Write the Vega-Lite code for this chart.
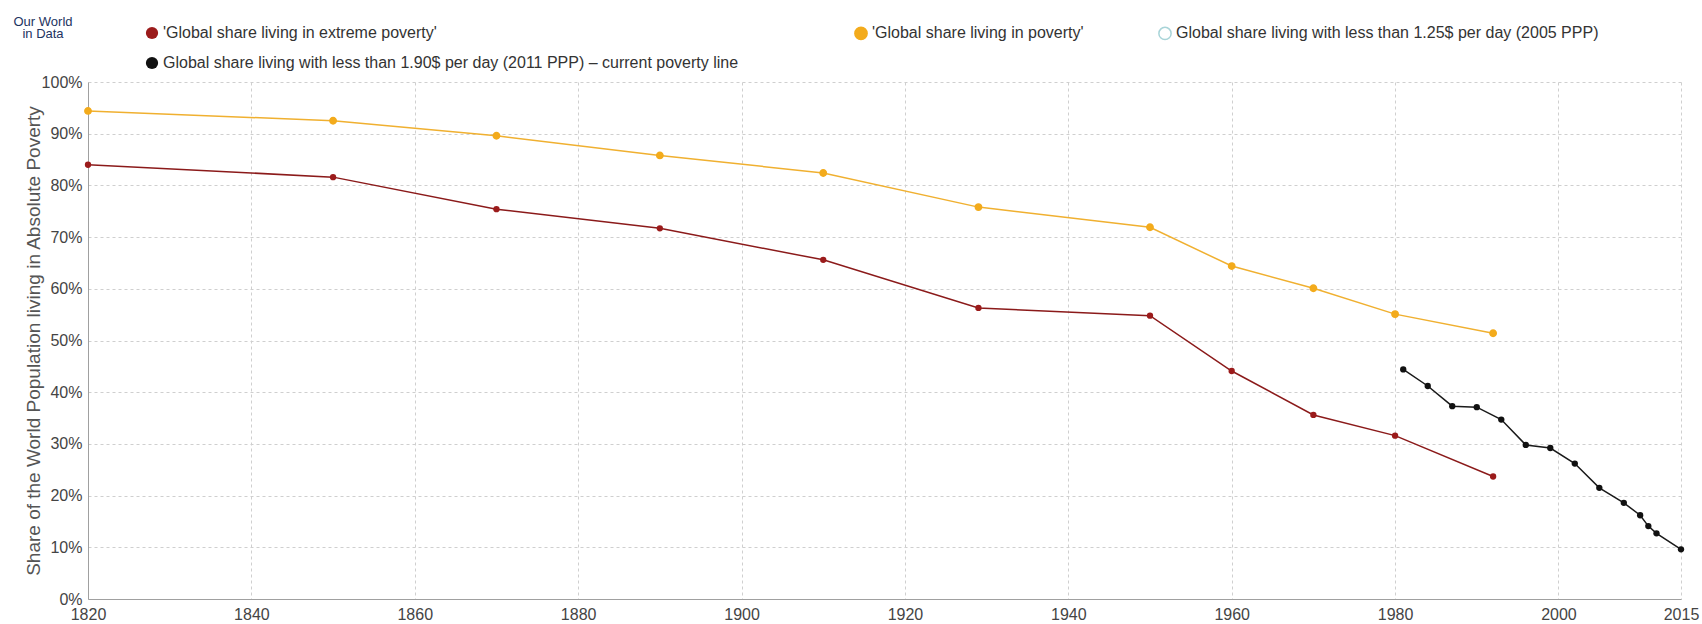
{
  "$schema": "https://vega.github.io/schema/vega-lite/v6.json",
  "width": 1593,
  "height": 517,
  "autosize": "none",
  "padding": {"left": 88, "top": 82, "right": 21, "bottom": 25},
  "background": "white",
  "config": {
    "font": "Liberation Sans",
    "view": {"stroke": null}
  },
  "title": {
    "text": ["Our World", "in Data"],
    "anchor": "start",
    "frame": "group",
    "align": "center",
    "dx": -45,
    "offset": -16,
    "fontSize": 13,
    "fontWeight": "normal",
    "color": "#1d3361",
    "lineHeight": 12
  },
  "data": {
    "values": [
      {"series": "'Global share living in extreme poverty'", "year": 1820, "share": 84.0},
      {"series": "'Global share living in extreme poverty'", "year": 1850, "share": 81.6},
      {"series": "'Global share living in extreme poverty'", "year": 1870, "share": 75.4},
      {"series": "'Global share living in extreme poverty'", "year": 1890, "share": 71.7},
      {"series": "'Global share living in extreme poverty'", "year": 1910, "share": 65.6},
      {"series": "'Global share living in extreme poverty'", "year": 1929, "share": 56.3},
      {"series": "'Global share living in extreme poverty'", "year": 1950, "share": 54.8},
      {"series": "'Global share living in extreme poverty'", "year": 1960, "share": 44.1},
      {"series": "'Global share living in extreme poverty'", "year": 1970, "share": 35.6},
      {"series": "'Global share living in extreme poverty'", "year": 1980, "share": 31.6},
      {"series": "'Global share living in extreme poverty'", "year": 1992, "share": 23.7},
      {"series": "'Global share living in poverty'", "year": 1820, "share": 94.4},
      {"series": "'Global share living in poverty'", "year": 1850, "share": 92.5},
      {"series": "'Global share living in poverty'", "year": 1870, "share": 89.6},
      {"series": "'Global share living in poverty'", "year": 1890, "share": 85.8},
      {"series": "'Global share living in poverty'", "year": 1910, "share": 82.4},
      {"series": "'Global share living in poverty'", "year": 1929, "share": 75.8},
      {"series": "'Global share living in poverty'", "year": 1950, "share": 71.9},
      {"series": "'Global share living in poverty'", "year": 1960, "share": 64.4},
      {"series": "'Global share living in poverty'", "year": 1970, "share": 60.1},
      {"series": "'Global share living in poverty'", "year": 1980, "share": 55.1},
      {"series": "'Global share living in poverty'", "year": 1992, "share": 51.4},
      {"series": "Global share living with less than 1.90$ per day (2011 PPP) – current poverty line", "year": 1981, "share": 44.4},
      {"series": "Global share living with less than 1.90$ per day (2011 PPP) – current poverty line", "year": 1984, "share": 41.2},
      {"series": "Global share living with less than 1.90$ per day (2011 PPP) – current poverty line", "year": 1987, "share": 37.3},
      {"series": "Global share living with less than 1.90$ per day (2011 PPP) – current poverty line", "year": 1990, "share": 37.1},
      {"series": "Global share living with less than 1.90$ per day (2011 PPP) – current poverty line", "year": 1993, "share": 34.7},
      {"series": "Global share living with less than 1.90$ per day (2011 PPP) – current poverty line", "year": 1996, "share": 29.8},
      {"series": "Global share living with less than 1.90$ per day (2011 PPP) – current poverty line", "year": 1999, "share": 29.2},
      {"series": "Global share living with less than 1.90$ per day (2011 PPP) – current poverty line", "year": 2002, "share": 26.2},
      {"series": "Global share living with less than 1.90$ per day (2011 PPP) – current poverty line", "year": 2005, "share": 21.5},
      {"series": "Global share living with less than 1.90$ per day (2011 PPP) – current poverty line", "year": 2008, "share": 18.6},
      {"series": "Global share living with less than 1.90$ per day (2011 PPP) – current poverty line", "year": 2010, "share": 16.2},
      {"series": "Global share living with less than 1.90$ per day (2011 PPP) – current poverty line", "year": 2011, "share": 14.1},
      {"series": "Global share living with less than 1.90$ per day (2011 PPP) – current poverty line", "year": 2012, "share": 12.7},
      {"series": "Global share living with less than 1.90$ per day (2011 PPP) – current poverty line", "year": 2015, "share": 9.6}
    ]
  },
  "encoding": {
    "x": {
      "field": "year",
      "type": "quantitative",
      "scale": {"domain": [1820, 2015], "nice": false, "zero": false},
      "axis": {
        "values": [1820, 1840, 1860, 1880, 1900, 1920, 1940, 1960, 1980, 2000, 2015],
        "format": "d",
        "title": null,
        "grid": true,
        "gridDash": [3, 3],
        "gridColor": "#cfcfcf",
        "ticks": false,
        "domainColor": "#a0a0a0",
        "labelFontSize": 16,
        "labelColor": "#444444",
        "labelPadding": 7,
        "labelFlush": false
      }
    },
    "y": {
      "field": "share",
      "type": "quantitative",
      "scale": {"domain": [0, 100], "nice": false},
      "axis": {
        "values": [0, 10, 20, 30, 40, 50, 60, 70, 80, 90, 100],
        "labelExpr": "datum.value + '%'",
        "title": "Share of the World Population living in Absolute Poverty",
        "titleFontSize": 19,
        "titleFontWeight": "normal",
        "titleColor": "#555555",
        "titlePadding": -2,
        "grid": true,
        "gridDash": [3, 3],
        "gridColor": "#cfcfcf",
        "ticks": false,
        "domainColor": "#a0a0a0",
        "labelFontSize": 16,
        "labelColor": "#444444",
        "labelPadding": 6
      }
    }
  },
  "layer": [
    {
      "mark": {"type": "line", "strokeWidth": 1.5},
      "encoding": {
        "color": {
          "field": "series",
          "type": "nominal",
          "scale": {
            "domain": ["'Global share living in extreme poverty'", "'Global share living in poverty'", "Global share living with less than 1.90$ per day (2011 PPP) – current poverty line"],
            "range": ["#8b1a1a", "#f0b030", "#1a1a1a"]
          },
          "legend": null
        }
      }
    },
    {
      "transform": [{"filter": "datum.series !== \"'Global share living in poverty'\""}],
      "mark": {"type": "point", "filled": true, "size": 40, "opacity": 1},
      "encoding": {
        "fill": {
          "field": "series",
          "type": "nominal",
          "scale": {
            "domain": ["'Global share living in extreme poverty'", "Global share living with less than 1.90$ per day (2011 PPP) – current poverty line"],
            "range": ["#9b1b1b", "#111111"]
          },
          "legend": {
            "title": null,
            "orient": "none",
            "legendX": 56,
            "legendY": -57,
            "direction": "vertical",
            "symbolType": "circle",
            "symbolSize": 150,
            "labelFontSize": 16,
            "labelColor": "#333333",
            "labelOffset": 3,
            "rowPadding": 14,
            "labelLimit": 1000
          }
        }
      }
    },
    {
      "transform": [{"filter": "datum.series === \"'Global share living in poverty'\""}],
      "mark": {"type": "point", "filled": true, "size": 40, "opacity": 1, "strokeWidth": 1.5},
      "encoding": {
        "fill": {
          "field": "series",
          "type": "nominal",
          "scale": {
            "domain": ["'Global share living in poverty'", "Global share living with less than 1.25$ per day (2005 PPP)"],
            "range": ["#f3ab1c", "#ffffff"]
          },
          "legend": {
            "title": null,
            "orient": "none",
            "legendX": 765,
            "legendY": -57,
            "direction": "horizontal",
            "symbolType": "circle",
            "symbolSize": 150,
            "labelFontSize": 16,
            "labelColor": "#333333",
            "labelOffset": 3,
            "columnPadding": 71,
            "labelLimit": 1000
          }
        },
        "stroke": {
          "field": "series",
          "type": "nominal",
          "scale": {
            "domain": ["'Global share living in poverty'", "Global share living with less than 1.25$ per day (2005 PPP)"],
            "range": ["#f3ab1c", "#a8d4d8"]
          },
          "legend": {
            "title": null,
            "orient": "none",
            "legendX": 765,
            "legendY": -57,
            "direction": "horizontal",
            "symbolType": "circle",
            "symbolSize": 150,
            "labelFontSize": 16,
            "labelColor": "#333333",
            "labelOffset": 3,
            "columnPadding": 71,
            "labelLimit": 1000
          }
        }
      }
    }
  ],
  "resolve": {
    "scale": {"fill": "independent", "stroke": "independent"},
    "legend": {"fill": "independent", "stroke": "independent"}
  }
}
